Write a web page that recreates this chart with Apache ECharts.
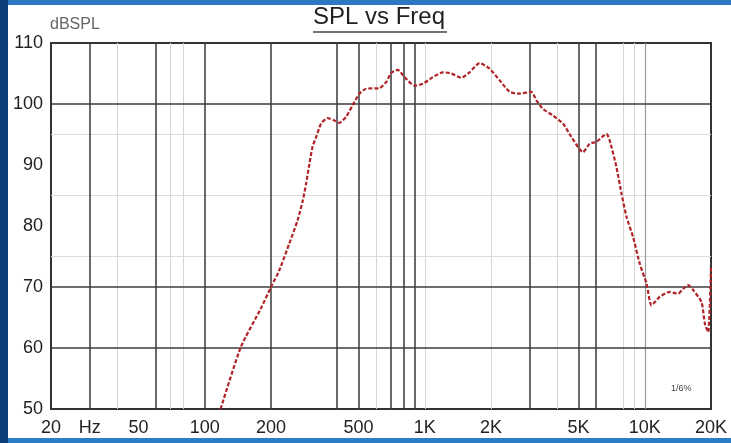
<!DOCTYPE html>
<html>
<head>
<meta charset="utf-8">
<script src="https://cdn.jsdelivr.net/npm/echarts@6/dist/echarts.min.js"></script>
<style>
html,body{margin:0;padding:0;background:#fff;}
#c{width:731px;height:443px;}
</style>
</head>
<body>
<div id="c"></div>
<script>
// ---- data ----
const freqs = [118,146,180,200,218,242,264,279,289,299,309,321,338,362,388,409,439,470,505,541,622,668,704,754,809,898,980,1088,1208,1319,1465,1598,1774,1971,2188,2430,2698,3052,3216,3446,3826,4250,4640,5240,5620,6030,6700,6930,7430,7840,8260,8850,9490,10180,10730,11710,13000,14180,14940,15750,16600,18120,18760,19420,20000];
const spl = [50.0,60.2,66.5,70.0,72.7,77.1,80.9,84.2,87.0,90.2,93.0,94.6,96.8,97.7,97.3,96.9,97.9,99.8,101.7,102.5,102.6,103.6,105.1,105.6,104.4,103.0,103.3,104.4,105.2,105.0,104.3,105.2,106.7,105.8,103.9,102.0,101.7,102.0,100.6,99.2,98.1,96.8,94.6,92.1,93.5,93.8,95.1,94.0,89.7,85.3,81.5,78.2,73.8,70.6,67.0,68.4,69.2,68.9,69.7,70.3,69.5,67.5,64.0,62.6,73.3];

const xTickValues = [20,30,50,100,200,500,1000,2000,5000,10000,20000];
const xTickLabels = ['20','Hz','50','100','200','500','1K','2K','5K','10K','20K'];

const darkGridX = [30,60,100,200,400,500,700,800,900,3000,5000,6000];
const lightGridX = [40,70,80,600,1000,2000,4000,8000,9000];
const midGridX = [10000];
const darkGridY = [60,70,100];
const lightGridY = [75,85,95];

// ---- chart ----
const chart = echarts.init(document.getElementById('c'), null, {renderer:'canvas'});
const lineData = freqs.map((f,i)=>[f, spl[i]]);

const gridLines = [];
lightGridX.forEach(v=>gridLines.push({xAxis:v, lineStyle:{color:'#d6d6d6', width:1, type:'solid'}}));
lightGridY.forEach(v=>gridLines.push({yAxis:v, lineStyle:{color:'#dcdcdc', width:1, type:'solid'}}));
midGridX.forEach(v=>gridLines.push({xAxis:v, lineStyle:{color:'#9a9a9a', width:1.2, type:'solid'}}));
darkGridX.forEach(v=>gridLines.push({xAxis:v, lineStyle:{color:'#454545', width:1.6, type:'solid'}}));
darkGridY.forEach(v=>gridLines.push({yAxis:v, lineStyle:{color:'#3c3c3c', width:1.6, type:'solid'}}));

const font = 'Liberation Sans';

chart.setOption({
  animation:false,
  backgroundColor:'#ffffff',
  grid:{left:51, right:20, top:43, bottom:34, show:true, borderColor:'#333', borderWidth:2, backgroundColor:'#fff'},
  xAxis:{
    type:'log', logBase:10, min:20, max:20000,
    axisLine:{show:true, lineStyle:{color:'#333', width:2}},
    axisTick:{show:false},
    splitLine:{show:false},
    minorSplitLine:{show:false},
    axisLabel:{
      customValues: xTickValues,
      formatter:(v)=>{const i = xTickValues.findIndex(t=>Math.abs(t-v)/t<1e-6); return i>=0?xTickLabels[i]:'';},
      fontFamily:font, fontSize:18, color:'#222', margin:10
    }
  },
  yAxis:{
    type:'value', min:50, max:110, interval:10,
    axisLine:{show:true, lineStyle:{color:'#333', width:2}},
    axisTick:{show:false},
    splitLine:{show:false},
    axisLabel:{fontFamily:font, fontSize:18, color:'#222', margin:8}
  },
  graphic:[
    {type:'rect', shape:{x:0,y:0,width:731,height:5}, style:{fill:'#2b79c2'}, z:100},
    {type:'rect', shape:{x:0,y:438,width:731,height:5}, style:{fill:'#2d7dc6'}, z:100},
    {type:'rect', shape:{x:0,y:0,width:8,height:443}, style:{fill:'#0d3e79'}, z:101},
    {type:'text', left:313, top:5, style:{text:'SPL vs Freq', font:'24px "Liberation Sans"', fill:'#222'}, z:50},
    {type:'line', shape:{x1:313,y1:32,x2:447,y2:32}, style:{stroke:'#444', lineWidth:1.5}, z:50},
    {type:'text', left:50, top:17, style:{text:'dBSPL', font:'16px "Liberation Sans"', fill:'#666'}, z:50},
    {type:'text', left:671, top:384, style:{text:'1/6%', font:'9px "Liberation Sans"', fill:'#444'}, z:50}
  ],
  series:[
    {
      type:'line', data:[[20,50]], showSymbol:false, symbol:'none', z:1,
      lineStyle:{opacity:0}, silent:true,
      markLine:{silent:true, symbol:['none','none'], label:{show:false}, animation:false, z:1, data:gridLines}
    },
    {
      type:'line', data:lineData, showSymbol:false, symbol:'none', smooth:0.2, z:5,
      lineStyle:{color:'#b02428', width:2.2, type:[4,2]}
    }
  ]
});
</script>
</body>
</html>
